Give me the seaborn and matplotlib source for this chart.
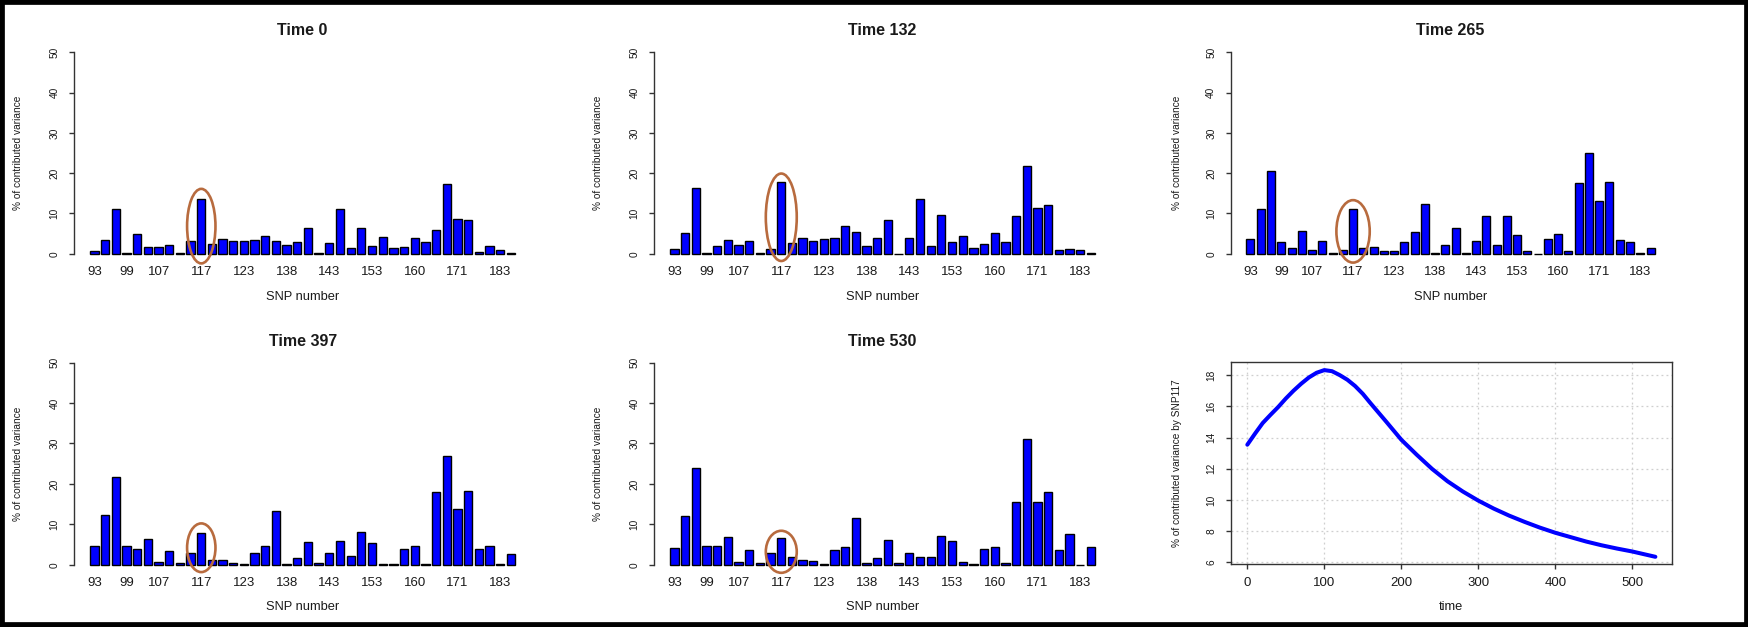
import numpy as np
import pandas as pd
import matplotlib
matplotlib.use("Agg")
import matplotlib.pyplot as plt
from matplotlib.patches import Ellipse, Rectangle
import seaborn as sns

# ---------------- data ----------------
tick_idx = [0, 3, 6, 10, 14, 18, 22, 26, 30, 34, 38]
tick_labels = ["93", "99", "107", "117", "123", "138", "143", "153", "160", "171", "183"]

time0 = [0.6, 3.4, 11.0, 0.25, 4.9, 1.7, 1.7, 2.2, 0.3, 3.1,
         13.6, 2.3, 3.6, 3.2, 3.2, 3.4, 4.5, 3.2, 2.2, 2.8,
         6.3, 0.1, 2.6, 11.2, 1.4, 6.3, 1.8, 4.25, 1.4, 1.7,
         4.0, 2.8, 5.8, 17.3, 8.7, 8.4, 0.5, 1.8, 1.0, 0.1]
time132 = [1.25, 5.2, 16.3, 0.1, 1.9, 3.3, 2.2, 3.1, 0.25, 1.2,
           17.75, 2.6, 4.0, 3.2, 3.6, 4.0, 6.8, 5.4, 1.9, 4.0,
           8.4, 0.05, 4.0, 13.6, 1.9, 9.6, 2.8, 4.4, 1.4, 2.3,
           5.2, 2.8, 9.3, 21.75, 11.4, 12.1, 1.0, 1.25, 1.0, 0.25]
time265 = [3.75, 11.0, 20.6, 2.8, 1.4, 5.7, 1.0, 3.1, 0.1, 1.0,
           11.0, 1.4, 1.7, 0.75, 0.6, 2.8, 5.4, 12.3, 0.3, 2.2,
           6.3, 0.3, 3.1, 9.3, 2.2, 9.3, 4.7, 0.75, 0.05, 3.75,
           4.9, 0.6, 17.6, 25.0, 13.1, 17.75, 3.3, 2.8, 0.3, 1.4]
time397 = [4.7, 12.3, 21.6, 4.7, 4.0, 6.3, 0.75, 3.3, 0.5, 2.8,
           7.9, 1.2, 1.2, 0.5, 0.3, 2.8, 4.7, 13.2, 0.3, 1.65,
           5.6, 0.5, 2.8, 5.9, 2.1, 8.2, 5.4, 0.3, 0.1, 4.0,
           4.7, 0.3, 18.1, 26.9, 13.7, 18.3, 4.0, 4.7, 0.3, 2.6]
time530 = [4.2, 12.1, 23.9, 4.7, 4.7, 6.8, 0.75, 3.55, 0.5, 2.8,
           6.5, 1.9, 1.2, 1.0, 0.3, 3.55, 4.5, 11.6, 0.5, 1.65,
           6.0, 0.5, 2.8, 1.9, 1.9, 7.0, 5.9, 0.75, 0.3, 3.8,
           4.5, 0.5, 15.5, 31.1, 15.5, 18.1, 3.55, 7.7, 0.05, 4.5]

panel_titles = ["Time 0", "Time 132", "Time 265", "Time 397", "Time 530"]
panel_values = [time0, time132, time265, time397, time530]

# SNP117 contribution over time
time_pts = [0, 10, 20, 30, 40, 50, 60, 70, 80, 90, 100, 110, 120, 130, 140,
            150, 160, 180, 200, 220, 240, 260, 280, 300, 320, 340, 360, 380,
            400, 420, 440, 460, 480, 500, 530]
snp117_pct = [13.54, 14.25, 14.93, 15.45, 15.95, 16.5, 17.0, 17.45, 17.85,
              18.15, 18.32, 18.25, 18.0, 17.7, 17.3, 16.8, 16.2, 15.04, 13.86,
              12.9, 11.99, 11.2, 10.54, 9.96, 9.45, 9.0, 8.6, 8.23, 7.9, 7.62,
              7.34, 7.1, 6.89, 6.70, 6.36]

# ---------------- style ----------------
sns.set_style("white")
plt.rcParams['font.family'] = ['Liberation Sans', 'DejaVu Sans']

W, H = 1749, 627
fig = plt.figure(figsize=(W / 100, H / 100), dpi=100)
fig.patch.set_facecolor("white")


def px_axes(left, top, right, bottom):
    return fig.add_axes([left / W, 1 - bottom / H, (right - left) / W, (bottom - top) / H])


TXT = "#1a1a1a"
SPINE = "#333333"
OVAL = "#B86B3E"

# positions (pixel boxes) of bar panels: left, right, top, bottom
bar_boxes = [
    (74.3, 531.0, 44.2, 261.8),
    (654.3, 1111.0, 44.2, 261.8),
    (1231.0, 1670.0, 44.2, 261.8),
    (74.3, 531.0, 354.6, 572.8),
    (654.3, 1111.0, 354.6, 572.8),
]
ovals = [
    (10, 6.85, 2.66, 18.5),
    (10, 9.05, 2.9, 21.7),
    (10, 5.55, 3.25, 15.5),
    (10, 4.2, 2.66, 12.05),
    (10, 3.2, 2.9, 10.4),
]
xlabel_y = [-0.162, -0.162, -0.162, -0.155, -0.155]

for k, (title, vals) in enumerate(zip(panel_titles, panel_values)):
    l, r, t, b = bar_boxes[k]
    ax = px_axes(l, t, r, b)
    df = pd.DataFrame({"idx": np.arange(len(vals)), "val": vals})
    sns.barplot(data=df, x="idx", y="val", color="#0000FF", saturation=1,
                edgecolor="black", linewidth=1.0, width=0.78, ax=ax)
    ax.set_xlim(-1.9, 40.9)
    ax.set_ylim(-2, 52)
    for s in ["top", "right", "bottom"]:
        ax.spines[s].set_visible(False)
    ax.spines["left"].set_bounds(0, 50)
    ax.spines["left"].set_color(SPINE)
    ax.spines["left"].set_linewidth(1.0)
    ax.set_yticks([0, 10, 20, 30, 40, 50])
    ax.set_yticklabels(["0", "10", "20", "30", "40", "50"], rotation=90, va="center")
    ax.tick_params(axis="y", left=True, length=3.6, width=1.0, color=SPINE,
                   labelsize=7.3, labelcolor=TXT, pad=7)
    ax.set_xticks(tick_idx)
    ax.set_xticklabels(tick_labels)
    ax.tick_params(axis="x", bottom=False, length=0, labelsize=9.5, labelcolor=TXT, pad=3)
    ax.set_title(title, fontsize=11.5, fontweight="bold", color=TXT, pad=6.5)
    ax.set_xlabel("SNP number", fontsize=9.3, color=TXT, va="center")
    ax.xaxis.set_label_coords(0.5, xlabel_y[k])
    ax.set_ylabel("% of contributed variance", fontsize=7.3, color=TXT, va="center")
    ax.yaxis.set_label_coords(-0.1233, 0.5)
    cx, cy, w, h = ovals[k]
    ax.add_patch(Ellipse((cx, cy), w, h, fill=False, edgecolor=OVAL,
                         linewidth=1.9, clip_on=False, zorder=5))

# ---------------- line panel ----------------
ax = px_axes(1231.0, 362.3, 1671.7, 564.3)
ldf = pd.DataFrame({"time": time_pts, "pct": snp117_pct})
sns.lineplot(data=ldf, x="time", y="pct", color="#0000FF", linewidth=2.9, ax=ax, zorder=3)
ax.set_xlim(-21.2, 551.2)
ax.set_ylim(5.88, 18.82)
ax.set_xticks([0, 100, 200, 300, 400, 500])
ax.set_yticks([6, 8, 10, 12, 14, 16, 18])
ax.set_yticklabels(["6", "8", "10", "12", "14", "16", "18"], rotation=90, va="center")
ax.grid(True, color="#cfcfcf", linestyle=(0, (1.5, 2.5)), linewidth=0.9)
ax.set_axisbelow(True)
for s in ax.spines.values():
    s.set_visible(True)
    s.set_color(SPINE)
    s.set_linewidth(1.0)
ax.tick_params(axis="both", bottom=True, left=True, length=3.6, width=1.0, color=SPINE,
               labelcolor=TXT)
ax.tick_params(axis="x", labelsize=9.5, pad=5.5)
ax.tick_params(axis="y", labelsize=7.3, pad=7)
ax.set_xlabel("time", fontsize=9.3, color=TXT, va="center")
ax.xaxis.set_label_coords(0.5, -0.21)
ax.set_ylabel("% of contributed variance by SNP117", fontsize=7.3, color=TXT, va="center")
ax.yaxis.set_label_coords(-0.1225, 0.5)

# black frame around the whole picture
fig.add_artist(Rectangle((0, 0), 1, 1, transform=fig.transFigure, fill=False,
                         edgecolor="black", linewidth=7, zorder=10))

fig.savefig("out.png", dpi=100, facecolor="white")
